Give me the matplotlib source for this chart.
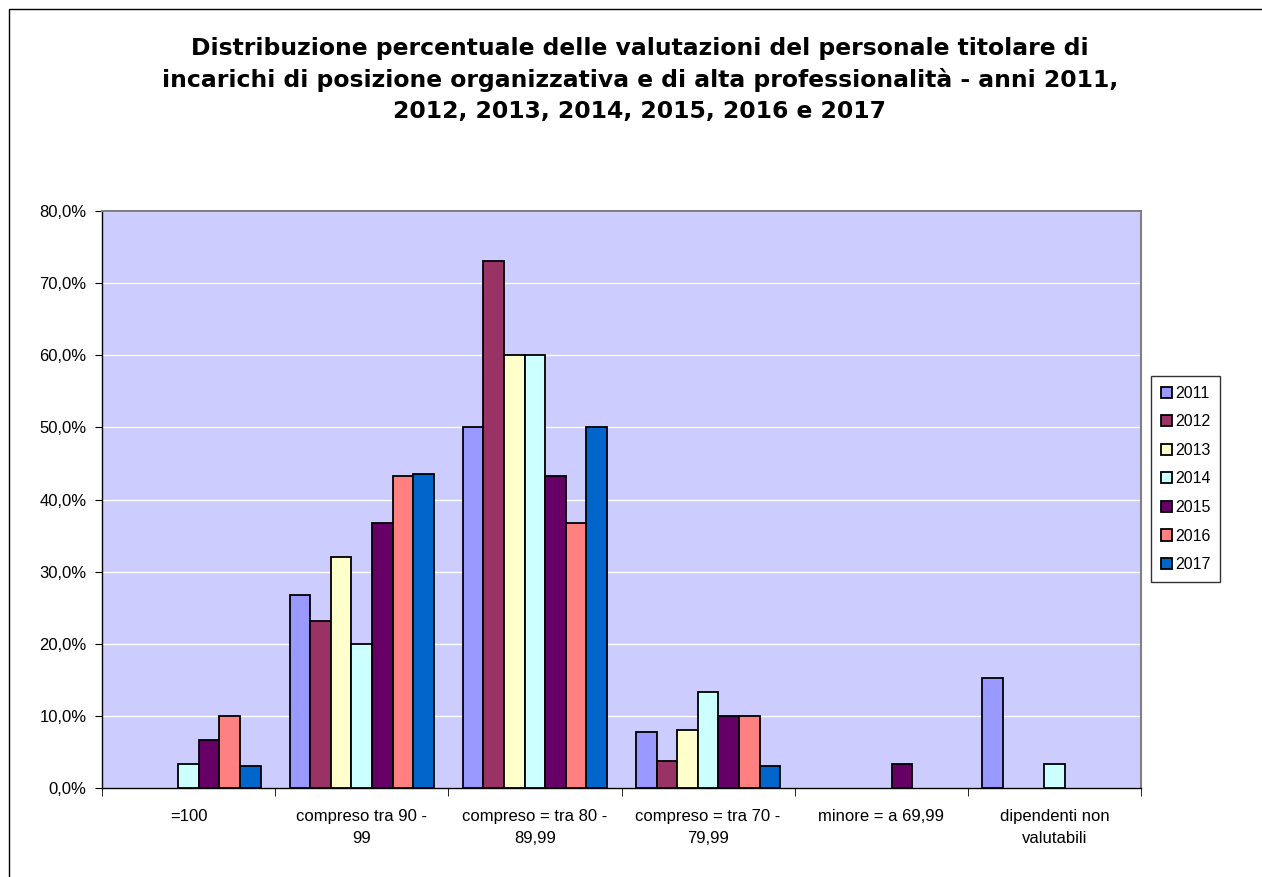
import matplotlib
matplotlib.use('Agg')
import matplotlib.pyplot as plt
import numpy as np
from matplotlib.patches import Rectangle
from matplotlib.ticker import FuncFormatter, MultipleLocator

# categorie e valori (%)
categorie = ['=100', 'compreso tra 90 -\n99', 'compreso = tra 80 -\n89,99',
             'compreso = tra 70 -\n79,99', 'minore = a 69,99',
             'dipendenti non\nvalutabili']
anni = ['2011', '2012', '2013', '2014', '2015', '2016', '2017']

v2011 = [0.0, 26.7, 50.0, 7.7, 0.0, 15.2]
v2012 = [0.0, 23.1, 73.1, 3.8, 0.0, 0.0]
v2013 = [0.0, 32.0, 60.0, 8.0, 0.0, 0.0]
v2014 = [3.3, 20.0, 60.0, 13.3, 0.0, 3.3]
v2015 = [6.7, 36.7, 43.3, 10.0, 3.3, 0.0]
v2016 = [10.0, 43.3, 36.7, 10.0, 0.0, 0.0]
v2017 = [3.0, 43.6, 50.0, 3.0, 0.0, 0.0]
valori = [v2011, v2012, v2013, v2014, v2015, v2016, v2017]

colori = ['#9999FF', '#993366', '#FFFFCC', '#CCFFFF', '#660066', '#FF8080', '#0066CC']

fig = plt.figure(figsize=(12.62, 8.77), dpi=100, facecolor='w')
ax = fig.add_axes([102/1262, 1-788/877, (1141-102)/1262, (788-211)/877])
ax.set_facecolor('#CCCCFF')

x = np.arange(len(categorie))
larg = 0.119
for i, (anno, vals) in enumerate(zip(anni, valori)):
    pos = x + (i - 3) * larg
    v = np.array(vals)
    ax.bar(pos[v > 0], v[v > 0], width=larg, color=colori[i], edgecolor='black',
           linewidth=1.3, label=anno, zorder=3)

ax.set_xlim(-0.5, len(categorie) - 0.5)
ax.set_ylim(0, 80)
ax.yaxis.set_major_locator(MultipleLocator(10))
ax.yaxis.set_major_formatter(FuncFormatter(lambda y, p: ('%.1f%%' % y).replace('.', ',')))
ax.grid(axis='y', color='white', linewidth=1, zorder=1)

ax.set_xticks(x)
ax.set_xticklabels(categorie, fontsize=12, family='Liberation Sans', linespacing=1.6)
ax.tick_params(axis='x', which='major', length=0, pad=15)
ax.set_xticks(np.arange(-0.5, len(categorie)), minor=True)
ax.tick_params(axis='x', which='minor', length=6, direction='out', color='black')
ax.tick_params(axis='y', length=5, direction='out', labelsize=12, pad=6)
for lab in ax.get_yticklabels():
    lab.set_family('Liberation Sans')

for s in ['top', 'right']:
    ax.spines[s].set_color('#808080')
    ax.spines[s].set_linewidth(1.5)
for s in ['left', 'bottom']:
    ax.spines[s].set_color('black')
    ax.spines[s].set_linewidth(1)

leg = ax.legend(loc='center left', bbox_to_anchor=(1143/1262, 1-479/877),
                bbox_transform=fig.transFigure, frameon=True, fancybox=False,
                edgecolor='black', prop={'family': 'Liberation Sans', 'size': 11.5},
                handlelength=0.7, handleheight=0.7, handletextpad=0.2,
                labelspacing=0.85, borderpad=0.6)
leg.get_frame().set_linewidth(1)

fig.text(0.507, 1-80/877,
         'Distribuzione percentuale delle valutazioni del personale titolare di\n'
         'incarichi di posizione organizzativa e di alta professionalità - anni 2011,\n'
         '2012, 2013, 2014, 2015, 2016 e 2017',
         ha='center', va='center', fontsize=16.9, fontweight='bold',
         family='DejaVu Sans', linespacing=1.45)

fig.patches.append(Rectangle((9/1262, -0.05), 1.1, 1 - 9/877 + 0.05,
                             transform=fig.transFigure, fill=False,
                             edgecolor='black', linewidth=1))

fig.savefig('out.png', dpi=100)
